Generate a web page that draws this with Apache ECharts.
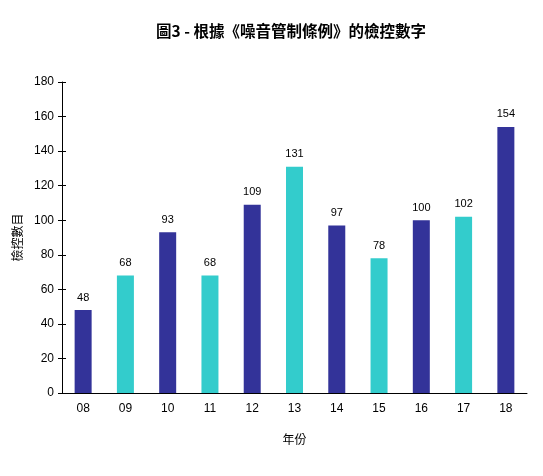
<!DOCTYPE html>
<html>
<head>
<meta charset="utf-8">
<script src="https://cdn.jsdelivr.net/npm/echarts@6/dist/echarts.min.js"></script>
<style>
html,body{margin:0;padding:0;background:#fff;}
#main{width:543px;height:476px;}
</style>
</head>
<body>
<div id="main"></div>
<script>
// 年份與檢控數目
var years = ['08','09','10','11','12','13','14','15','16','17','18'];
var counts = [48, 68, 93, 68, 109, 131, 97, 78, 100, 102, 154];
var barColors = ['#333399', '#33CCCC'];

var chart = echarts.init(document.getElementById('main'));
var font = '"Liberation Sans", Arial, sans-serif';

var option = {
    animation: false,
    title: {
        text: '圖3 - 根據《噪音管制條例》的檢控數字',
        left: 286,
        textAlign: 'center',
        top: 18,
        textStyle: {
            fontFamily: '"Noto Sans CJK TC", serif',
            fontWeight: 'bold',
            fontSize: 15.5,
            color: '#000'
        }
    },
    grid: {
        left: 62,
        right: 16,
        top: 82,
        bottom: 83
    },
    xAxis: {
        type: 'category',
        data: years,
        name: '年份',
        nameLocation: 'middle',
        nameGap: 40,
        nameTextStyle: {fontFamily: '"Noto Sans CJK TC", sans-serif', fontSize: 12, color: '#000'},
        axisLine: {lineStyle: {color: '#000', width: 1}},
        axisTick: {show: false},
        axisLabel: {fontFamily: font, fontSize: 12, color: '#000', margin: 10}
    },
    yAxis: [
        {
            type: 'value',
            min: 0,
            max: 180,
            interval: 20,
            position: 'left',
            name: '檢控數目',
            nameLocation: 'middle',
            nameGap: 35,
            nameTextStyle: {fontFamily: '"Noto Sans CJK TC", sans-serif', fontSize: 12, color: '#000'},
            axisLine: {show: true, lineStyle: {color: '#000', width: 1}},
            axisTick: {show: true, length: 4, lineStyle: {color: '#000'}},
            axisLabel: {fontFamily: font, fontSize: 12, color: '#000', margin: 8},
            splitLine: {show: false}
        },
        {
            // 刻度穿過軸線
            type: 'value',
            min: 0,
            max: 180,
            interval: 20,
            position: 'left',
            offset: 0,
            axisLine: {show: false},
            axisTick: {show: true, inside: true, length: 4, lineStyle: {color: '#000'}},
            axisLabel: {show: false},
            splitLine: {show: false}
        }
    ],
    series: [
        {
            type: 'bar',
            data: counts.map(function (v, i) {
                return {value: v, itemStyle: {color: barColors[i % 2]}};
            }),
            barWidth: 17,
            label: {
                show: true,
                position: 'top',
                distance: 7,
                fontFamily: font,
                fontSize: 11,
                color: '#000'
            }
        }
    ]
};
chart.setOption(option);
</script>
</body>
</html>
